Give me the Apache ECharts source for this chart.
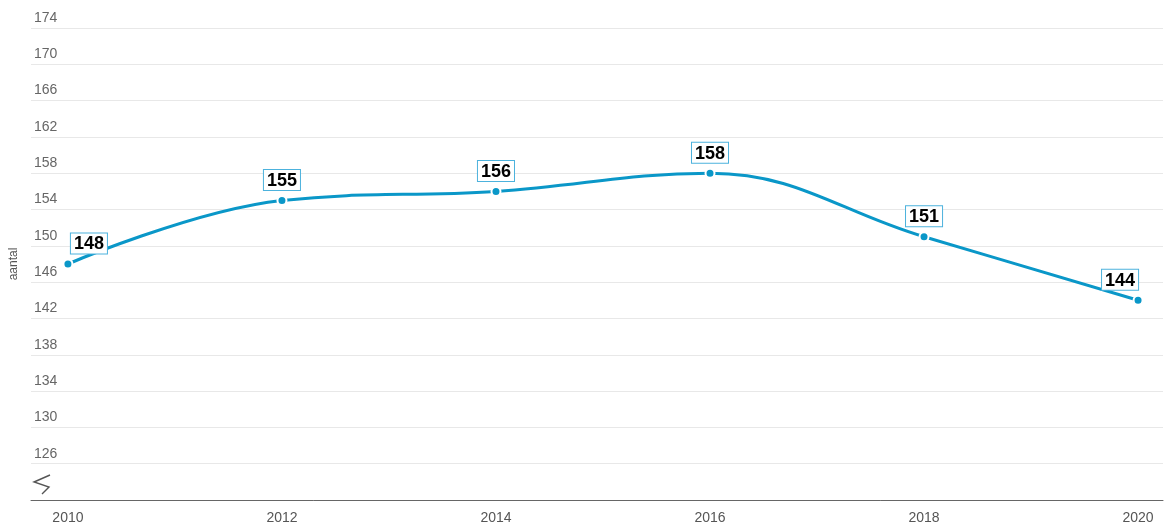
<!DOCTYPE html>
<html>
<head>
<meta charset="utf-8">
<script src="https://cdn.jsdelivr.net/npm/echarts@6/dist/echarts.min.js"></script>
<style>
  html, body { margin: 0; padding: 0; background: #fff; }
  #main { width: 1169px; height: 528px; }
</style>
</head>
<body>
<div id="main"></div>
<script>
const years = [2010, 2012, 2014, 2016, 2018, 2020];
const counts = [148, 155, 156, 158, 151, 144];
const yearTicks = [2010, 2012, 2014, 2016, 2018, 2020];

// first and last labels are pushed inwards
function labelOffset(i) {
  if (i === 0) return [21, 0];
  if (i === counts.length - 1) return [-18, 0];
  return [0, 0];
}

const data = years.map(function (y, i) {
  return {
    value: [y, counts[i]],
    label: { offset: labelOffset(i) }
  };
});

const options = {
  animation: false,
  textStyle: { fontFamily: "Arial, 'Liberation Sans', sans-serif" },
  grid: { left: 29, right: 6, top: 28, bottom: 28 },
  xAxis: {
    type: "value",
    min: 2009.655,
    max: 2020.233,
    axisLine: { show: true, lineStyle: { color: "#666", width: 1 } },
    axisTick: { show: false },
    splitLine: { show: false },
    axisLabel: {
      customValues: yearTicks,
      color: "#555",
      fontSize: 14,
      margin: 11,
      formatter: function (v) { return String(v); }
    }
  },
  yAxis: {
    type: "value",
    min: 122,
    max: 174,
    interval: 4,
    name: "aantal",
    nameLocation: "middle",
    nameGap: 11,
    nameTextStyle: { color: "#555", fontSize: 12 },
    axisLine: { show: false },
    axisTick: { show: false },
    axisLabel: {
      inside: true,
      margin: 3,
      align: "left",
      verticalAlign: "bottom",
      padding: [0, 0, 3, 0],
      color: "#666",
      fontSize: 14,
      formatter: function (v) { return v === 122 ? "" : String(v); }
    },
    splitLine: { lineStyle: { color: "#e8e8e8", width: 1 } }
  },
  graphic: [
    {
      type: "polyline",
      shape: { points: [[50, 475], [34, 482], [49, 487], [42, 494]] },
      style: { stroke: "#555", lineWidth: 1.4, fill: null }
    }
  ],
  series: [
    {
      type: "line",
      smooth: 0.4,
      data: data,
      symbol: "circle",
      symbolSize: 9,
      lineStyle: { color: "#0a97c8", width: 3 },
      itemStyle: { color: "#0a97c8", borderColor: "#fff", borderWidth: 2 },
      label: {
        show: true,
        position: "top",
        distance: 5,
        formatter: function (p) { return p.value[1]; },
        color: "#000",
        fontSize: 18,
        fontWeight: "bold",
        backgroundColor: "#fff",
        borderColor: "#4cb2dd",
        borderWidth: 1,
        padding: [2, 3, 0, 3]
      }
    }
  ]
};

var myChart = echarts.init(document.getElementById("main"));
myChart.setOption(options);
window.onresize = function () {
  myChart.resize();
};
</script>
</body>
</html>
